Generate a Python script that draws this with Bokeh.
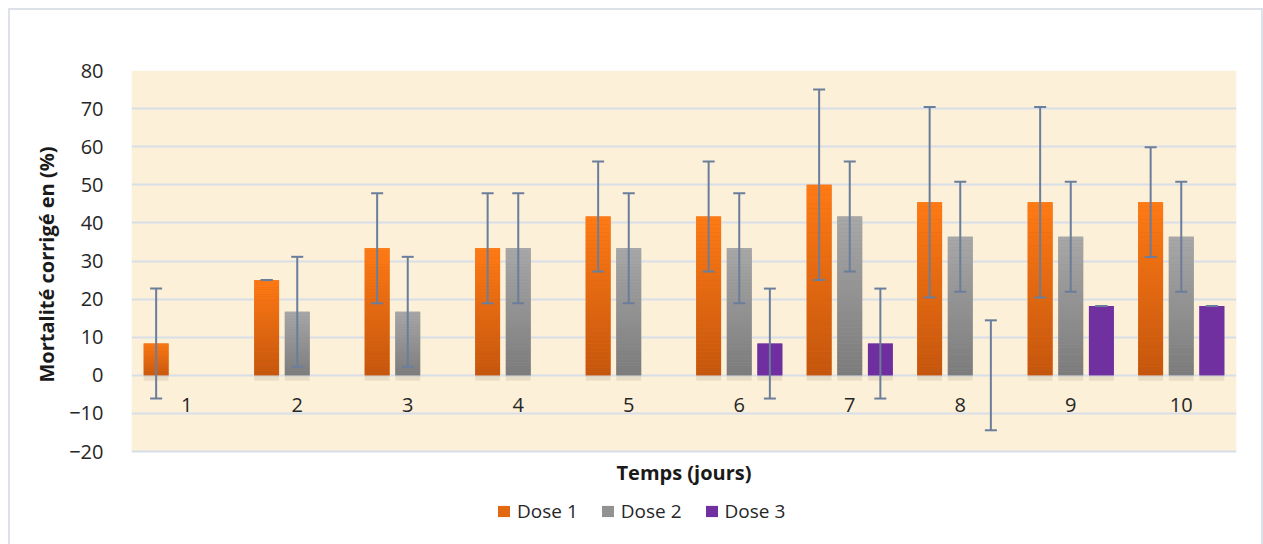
import numpy as np
from bokeh.plotting import figure
from bokeh.models import (ColumnDataSource, Whisker, TeeHead, Legend, LegendItem,
                          Label, Title, FixedTicker, Range1d, BoxAnnotation)
from bokeh.core.properties import value
from bokeh.embed import file_html
from bokeh.resources import INLINE

# ---------------- data ----------------
days = [1, 2, 3, 4, 5, 6, 7, 8, 9, 10]
day_labels = ["1", "2", "3", "4", "5", "6", "7", "8", "9", "10"]
series_names = ["Dose 1", "Dose 2", "Dose 3"]
dose1 = [8.33, 25.0, 33.33, 33.33, 41.67, 41.67, 50.0, 45.45, 45.45, 45.45]
dose2 = [0.0, 16.67, 16.67, 33.33, 33.33, 33.33, 41.67, 36.36, 36.36, 36.36]
dose3 = [0.0, 0.0, 0.0, 0.0, 0.0, 8.33, 8.33, 0.0, 18.18, 18.18]
err1 = [14.43, 0.0, 14.43, 14.43, 14.43, 14.43, 25.0, 25.0, 25.0, 14.43]
err2 = [0.0, 14.43, 14.43, 14.43, 14.43, 14.43, 14.43, 14.43, 14.43, 14.43]
err3 = [0.0, 0.0, 0.0, 0.0, 0.0, 14.43, 14.43, 14.43, 0.0, 0.0]
y_ticks = [-20, -10, 0, 10, 20, 30, 40, 50, 60, 70, 80]
y_min, y_max = -20, 80

# ---------------- styles ----------------
FONT = "Open Sans"
offsets = [-0.277, 0.0, 0.277]
bar_w = 0.225
grad = [((196, 86, 14), (255, 122, 20)),      # orange bottom -> top
        ((123, 123, 123), (168, 168, 168)),    # gray
        ((112, 48, 160), (112, 48, 160))]      # purple (solid)
ERR = "#6A7E9C"
BORDER = "#DDE2E9"
N = 40

# plot area of 381 px for the 100-unit axis, extended below for title + legend
PX_PER_UNIT = 381 / (y_max - y_min)
FRAME_H = 466
p = figure(frame_width=1105, frame_height=FRAME_H,
           x_range=Range1d(0.5, 10.5),
           y_range=Range1d(y_max - FRAME_H / PX_PER_UNIT, y_max),
           x_axis_location=None,
           output_backend="svg", toolbar_location=None,
           min_border_left=131, min_border_right=27,
           min_border_top=70, min_border_bottom=8,
           background_fill_color="white", border_fill_alpha=0,
           outline_line_color=None)
p.styles = {
    "background": (
        f"linear-gradient({BORDER},{BORDER}) 8px 8px / 2px 100% no-repeat, "
        f"linear-gradient({BORDER},{BORDER}) 8px 8px / calc(100% - 9px) 2px no-repeat, "
        f"linear-gradient({BORDER},{BORDER}) right 0px top 8px / 2px 100% no-repeat, "
        "white"
    )
}

# beige plot area
p.add_layout(BoxAnnotation(bottom=y_min, top=y_max, fill_color="#FCF0D9",
                           fill_alpha=1, line_color=None, level="image"))

p.ygrid.ticker = FixedTicker(ticks=y_ticks)
p.ygrid.grid_line_color = "#D8DEE8"
p.ygrid.grid_line_width = 2
p.xgrid.visible = False

ax = p.yaxis[0]
ax.ticker = FixedTicker(ticks=y_ticks)
ax.axis_line_color = None
ax.major_tick_line_color = None
ax.minor_tick_line_color = None
ax.major_label_standoff = 22
ax.major_label_text_font = FONT
ax.major_label_text_font_size = "20px"
ax.major_label_text_color = "#262626"

# y axis title, aligned with the -20..80 part of the plot area
p.add_layout(Title(text="Mortalité corrigé en (%)", align="left", offset=154,
                   text_font=FONT, text_font_size="20px", text_font_style="bold",
                   text_color="#1a1a1a", standoff=14), "left")

legend_items = []
for k, (vals, errs) in enumerate(zip([dose1, dose2, dose3], [err1, err2, err3])):
    v = np.array(vals)
    e = np.array(errs)
    xs = np.array(days) + offsets[k]
    nz = v > 0
    # soft shadow under non-zero bars
    p.vbar(x=xs[nz], width=bar_w, bottom=-1.4, top=0, fill_color="#6b5a3c",
           fill_alpha=0.13, line_color=None)
    # base bar (mid colour) to hide slice seams; also the legend swatch
    c0 = np.array(grad[k][0], float)
    c1 = np.array(grad[k][1], float)
    mid = "#%02x%02x%02x" % tuple(int(round(t)) for t in (c0 + c1) / 2)
    base = p.vbar(x=xs[nz], width=bar_w, bottom=0, top=v[nz], fill_color=mid,
                  line_color=None)
    legend_items.append(LegendItem(label=series_names[k], renderers=[base]))
    # gradient slices
    sx, sb, st, sc = [], [], [], []
    for j in range(len(v)):
        if v[j] <= 0:
            continue
        for i in range(N):
            f = (i + 0.5) / N
            c = c0 + (c1 - c0) * f
            sx.append(xs[j])
            sb.append(v[j] * i / N)
            st.append(v[j] * (i + 1) / N)
            sc.append("#%02x%02x%02x" % tuple(int(round(t)) for t in c))
    src = ColumnDataSource(dict(x=sx, bottom=sb, top=st, color=sc))
    p.vbar(x="x", width=bar_w, bottom="bottom", top="top", source=src,
           fill_color="color", line_color=None)
    # error bars
    keep = (v > 0) | (e > 0)
    wsrc = ColumnDataSource(dict(x=xs[keep], upper=(v + e)[keep], lower=(v - e)[keep]))
    w = Whisker(base="x", upper="upper", lower="lower", source=wsrc,
                line_color=ERR, line_width=2, level="annotation",
                upper_head=TeeHead(size=12, line_color=ERR, line_width=2),
                lower_head=TeeHead(size=12, line_color=ERR, line_width=2))
    p.add_layout(w)

# category labels next to the zero line
p.text(x=days, y=[0] * len(days), text=day_labels, y_offset=30,
       text_align="center", text_baseline="middle",
       text_font=value(FONT), text_font_size="20px", text_color="#262626")

# x axis title under the plot area
p.add_layout(Label(x=(days[0] + days[-1]) / 2, y=y_min, y_offset=-21,
                   text="Temps (jours)", text_align="center", text_baseline="middle",
                   text_font=FONT, text_font_size="20px", text_font_style="bold",
                   text_color="#1a1a1a"))

leg = Legend(items=legend_items, orientation="horizontal", location=(365, 12),
             border_line_color=None, background_fill_alpha=0,
             label_text_font=FONT, label_text_font_size="19px",
             label_text_color="#262626", glyph_width=15, glyph_height=14,
             spacing=22, padding=0, margin=0, label_standoff=6)
p.add_layout(leg, "center")

open("out.html", "w").write(file_html(p, INLINE))
